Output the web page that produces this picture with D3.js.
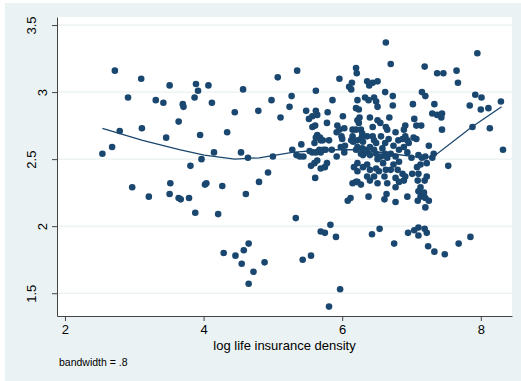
<!DOCTYPE html>
<html lang="en">
  <head>
    <meta charset="UTF-8" />
    <title>lowess</title>
    <style>
      body { margin: 0; background: #fff; }
      text { font-family: "Liberation Sans", Arial, sans-serif; }
    </style>
  </head>
  <body>
    <svg id="svg" width="521" height="381"></svg>
    <script src="https://d3js.org/d3.v7.min.js"></script>
    <script>
      // scatter data: log life insurance density (x) vs outcome (y)
      const logDensity = [
        2.54,2.68,2.72,2.79,2.91,2.97,3.10,3.11,3.21,3.31,
        3.42,3.46,3.51,3.52,3.51,3.64,3.67,3.70,3.71,3.64,
        3.79,3.81,3.87,3.89,3.92,3.88,3.95,3.97,4.02,4.04,
        4.07,4.12,4.15,4.21,4.27,4.29,4.34,4.45,4.46,4.54,
        4.55,4.57,4.58,4.61,4.64,4.65,4.65,4.72,4.79,4.80,
        4.88,4.93,4.98,5.00,5.07,5.11,5.24,5.27,5.28,5.33,
        5.34,5.35,5.39,5.41,5.43,5.44,5.48,5.52,5.53,5.55,
        5.55,5.57,5.57,5.57,5.60,5.61,5.61,5.62,5.62,5.62,
        5.62,5.64,5.64,5.64,5.60,5.67,5.68,5.69,5.69,5.69,
        5.69,5.72,5.73,5.75,5.75,5.76,5.78,5.78,5.79,5.81,
        5.81,5.83,5.85,5.86,5.91,5.92,5.92,5.93,5.97,5.96,
        5.96,5.98,5.99,6.00,6.01,6.03,6.03,6.04,6.08,6.12,
        6.10,6.13,6.14,6.13,6.15,6.15,6.15,6.16,6.17,6.20,
        6.20,6.21,6.20,6.20,6.20,6.22,6.22,6.22,6.22,6.22,
        6.22,6.22,6.24,6.24,6.25,6.27,6.27,6.27,6.28,6.29,
        6.29,6.30,6.30,6.30,6.33,6.33,6.36,6.36,6.36,6.36,
        6.36,6.38,6.38,6.39,6.40,6.40,6.40,6.40,6.40,6.43,
        6.44,6.44,6.44,6.46,6.46,6.46,6.46,6.49,6.49,6.49,
        6.49,6.51,6.51,6.51,6.51,6.51,6.53,6.54,6.55,6.56,
        6.56,6.58,6.59,6.61,6.61,6.62,6.62,6.62,6.63,6.63,
        6.63,6.64,6.65,6.65,6.65,6.67,6.68,6.70,6.70,6.70,
        6.73,6.73,6.74,6.74,6.75,6.77,6.77,6.77,6.77,6.77,
        6.80,6.81,6.82,6.82,6.82,6.87,6.87,6.89,6.89,6.89,
        6.91,6.91,6.91,6.94,6.94,6.94,6.95,6.96,7.00,7.01,
        7.02,7.03,7.04,7.04,7.07,7.07,7.08,7.09,7.09,7.10,
        7.10,7.10,7.10,7.10,7.13,7.13,7.13,7.14,7.15,7.15,
        7.18,7.19,7.19,7.19,7.20,7.20,7.20,7.20,7.22,7.22,
        7.22,7.24,7.25,7.25,7.30,7.30,7.32,7.33,7.33,7.37,
        7.37,7.44,7.43,7.44,7.46,7.48,7.53,7.65,7.67,7.68,
        7.84,7.85,7.88,7.92,7.95,8.01,8.00,8.11,8.13,8.29,8.32
      ];
      const outcome = [
        2.54,2.59,3.16,2.71,2.96,2.29,3.10,2.73,2.22,2.94,
        2.92,2.66,3.05,2.32,2.24,2.21,2.20,2.91,2.89,2.78,
        2.21,2.45,2.96,3.06,3.01,2.10,2.68,2.50,2.31,2.32,
        3.05,2.92,2.55,2.09,2.30,1.80,2.70,2.85,1.78,2.55,
        1.72,3.02,1.82,2.24,2.51,1.87,1.57,1.66,2.86,2.33,
        1.73,2.40,2.94,2.52,3.11,2.81,2.89,2.97,2.57,2.06,
        2.53,3.16,2.52,2.61,1.75,2.52,2.86,2.80,2.56,2.45,
        1.78,2.82,2.74,2.55,2.47,2.36,2.75,3.01,2.86,2.66,
        2.55,2.83,2.68,2.49,2.62,2.57,2.66,2.64,2.55,2.43,
        1.96,2.64,2.57,2.44,1.95,2.57,2.77,2.47,2.85,1.40,
        2.64,2.01,2.57,2.94,1.92,2.52,2.70,2.75,1.53,2.72,
        3.10,2.59,2.67,2.65,2.82,2.73,2.55,2.60,2.19,2.21,
        3.04,3.02,3.07,2.64,2.72,2.67,2.32,2.63,2.44,2.33,
        3.18,3.14,2.88,2.72,2.57,2.94,2.79,2.64,2.47,2.41,
        2.33,2.59,2.87,2.77,2.81,2.72,2.54,2.31,2.66,2.69,
        2.58,2.63,2.53,2.44,2.96,2.57,3.08,2.67,2.55,2.46,
        2.37,2.94,2.22,3.05,2.81,2.59,2.53,2.42,2.34,1.94,
        3.07,2.74,2.67,2.96,2.64,2.57,2.37,2.93,2.62,2.54,
        2.43,3.08,2.89,2.79,2.50,2.32,2.41,1.98,2.77,2.52,
        2.67,2.58,2.47,2.37,2.20,3.00,2.62,2.54,3.37,2.74,
        2.42,2.24,2.72,2.51,2.32,2.65,2.81,3.21,2.54,2.42,
        2.97,2.90,2.60,2.46,1.87,2.18,2.70,2.52,2.36,2.29,
        2.42,2.64,2.57,2.48,2.33,2.65,2.39,2.72,2.59,2.34,
        2.75,2.67,2.37,2.64,2.55,2.22,1.95,2.62,2.51,2.39,
        2.91,2.66,2.80,1.97,2.75,2.65,2.44,2.19,2.34,2.26,
        2.53,2.39,1.99,1.93,2.46,2.29,2.22,2.75,3.00,2.51,
        2.25,2.34,3.19,1.98,2.97,2.52,2.21,2.14,2.47,2.37,
        1.95,1.85,2.60,2.19,2.84,2.51,2.54,2.91,1.81,3.14,
        2.83,2.84,2.81,2.72,3.14,1.79,2.45,3.16,3.07,1.87,
        2.90,1.92,2.74,2.98,3.29,2.96,2.87,2.88,2.73,2.93,2.57
      ];

      // lowess smooth (bandwidth .8)
      const smoothX = [2.54, 3.12, 3.65, 4.01, 4.45, 4.80, 5.28, 5.74, 6.24, 6.72, 7.00, 7.15, 7.32, 7.87, 8.30];
      const smoothY = [2.73, 2.64, 2.57, 2.53, 2.50, 2.51, 2.55, 2.57, 2.57, 2.54, 2.52, 2.51, 2.52, 2.74, 2.89];

      const xTicks = [2, 4, 6, 8];
      const yTicks = [1.5, 2, 2.5, 3, 3.5];
      const xTitle = "log life insurance density";
      const note = "bandwidth = .8";

      const svg = d3.select("#svg");
      const navy = "#1a476f";
      const plot = { left: 57, right: 512, top: 17, bottom: 316 };

      // outer graph region and white plot region
      svg.append("rect").attr("x", 5).attr("y", 3).attr("width", 516).attr("height", 378).attr("fill", "#eaf2f3");
      svg.append("rect")
        .attr("x", plot.left).attr("y", plot.top)
        .attr("width", plot.right - plot.left).attr("height", plot.bottom - plot.top)
        .attr("fill", "#fff");

      const xScale = d3.scaleLinear().domain([1.885, 8.45]).range([plot.left, plot.right]);
      const yScale = d3.scaleLinear().domain([1.33, 3.56]).range([plot.bottom, plot.top]);

      // gridlines
      svg.append("g").selectAll("line").data(yTicks).join("line")
        .attr("x1", plot.left).attr("x2", plot.right)
        .attr("y1", (d) => yScale(d)).attr("y2", (d) => yScale(d))
        .attr("stroke", "#e4eced").attr("stroke-width", 1);

      // points
      const points = logDensity.map((x, i) => ({ x, y: outcome[i] }));
      svg.append("g").selectAll("circle").data(points).join("circle")
        .attr("cx", (d) => xScale(d.x))
        .attr("cy", (d) => yScale(d.y))
        .attr("r", 3.3)
        .attr("fill", navy);

      // lowess line
      const line = d3.line().x((d) => xScale(d[0])).y((d) => yScale(d[1]));
      svg.append("path")
        .datum(smoothX.map((x, i) => [x, smoothY[i]]))
        .attr("d", line)
        .attr("fill", "none")
        .attr("stroke", navy)
        .attr("stroke-width", 1.3);

      // x axis
      const xAxis = svg.append("g")
        .attr("transform", `translate(0, ${plot.bottom})`)
        .call(d3.axisBottom(xScale).tickValues(xTicks).tickSize(5).tickSizeOuter(0).tickPadding(4).tickFormat(d3.format("d")));
      xAxis.selectAll("text").attr("font-size", 13).attr("fill", "#000").attr("font-family", null);

      // y axis with vertical labels
      const yAxis = svg.append("g")
        .attr("transform", `translate(${plot.left}, 0)`)
        .call(d3.axisLeft(yScale).tickValues(yTicks).tickSize(5).tickSizeOuter(0).tickFormat((d) => String(d)));
      yAxis.selectAll("text")
        .attr("font-size", 13).attr("fill", "#000").attr("font-family", null)
        .attr("x", 0).attr("dy", 0).attr("text-anchor", "middle")
        .attr("transform", function () {
          const len = this.getComputedTextLength();
          return `translate(${-3 - len}, 0) rotate(-90)`;
        });

      svg.selectAll(".domain, .tick line").attr("stroke", "#444");

      svg.append("text")
        .attr("x", (plot.left + plot.right) / 2).attr("y", 349.5)
        .attr("text-anchor", "middle").attr("font-size", 13)
        .text(xTitle);

      svg.append("text")
        .attr("x", 59).attr("y", 366)
        .attr("font-size", 10.5)
        .text(note);
    </script>
  </body>
</html>
